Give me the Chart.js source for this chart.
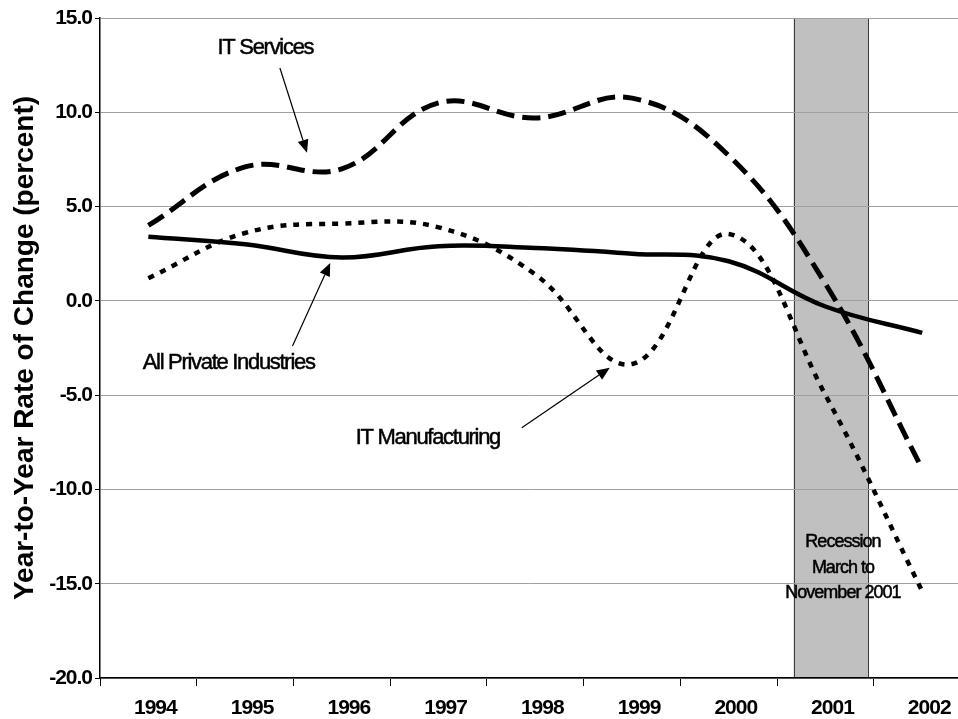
<!DOCTYPE html>
<html><head><meta charset="utf-8">
<script src="https://cdn.jsdelivr.net/npm/chart.js@4"></script>
<style>html,body{margin:0;padding:0;background:#fff}#wrap{width:958px;height:719px;position:relative}</style>
</head><body><div id="wrap"><canvas id="c"></canvas></div>
<script>
const categories = ['1994','1995','1996','1997','1998','1999','2000','2001','2002'];
const allPrivate = [3.4, 3.0, 2.3, 2.9, 2.8, 2.5, 2.1, -0.3, -1.7];
const itServices = [4.0, 7.1, 7.0, 10.5, 9.7, 10.75, 7.7, 0.9, -8.9];
const itManufacturing = [1.2, 3.6, 4.1, 3.9, 1.4, -3.35, 3.55, -5.0, -15.4];
const yTickValues = [-20, -15, -10, -5, 0, 5, 10, 15];
const recessionSpan = [6.67, 7.44];
const recessionLines = ['Recession', 'March to', 'November 2001'];
const yTitle = 'Year-to-Year Rate of Change (percent)';

// annotation placement (data units: x = category index, y = percent)
const notes = [
  {text: 'IT Services', at: [1.21, 13.4], from: [1.36, 12.35], to: [1.64, 7.85]},
  {text: 'All Private Industries', at: [0.83, -3.3], from: [1.49, -2.39], to: [1.88, 2.01]},
  {text: 'IT Manufacturing', at: [2.89, -7.26], from: [3.86, -6.73], to: [4.77, -3.55]}
];
const recessionTextAt = [7.18, [-12.78, -14.16, -15.48]];

const toPts = arr => arr.map((v, i) => ({x: i, y: v}));

const bandPlugin = {
  id: 'band',
  beforeDraw(chart) {
    const ctx = chart.ctx, xs = chart.scales.x, a = chart.chartArea;
    ctx.letterSpacing = '-1px';
    const x0 = xs.getPixelForValue(recessionSpan[0]);
    const x1 = xs.getPixelForValue(recessionSpan[1]);
    ctx.save();
    ctx.fillStyle = '#c0c0c0';
    ctx.fillRect(x0, a.top, x1 - x0, a.bottom - a.top);
    ctx.strokeStyle = '#3a3a3a';
    ctx.lineWidth = 1;
    ctx.strokeRect(Math.round(x0) + 0.5, a.top + 0.5, Math.round(x1 - x0), a.bottom - a.top);
    ctx.restore();
  }
};

function arrow(ctx, x0, y0, x1, y1) {
  const ang = Math.atan2(y1 - y0, x1 - x0);
  const L = 13, W = 5.5;
  const bx = x1 - L * Math.cos(ang), by = y1 - L * Math.sin(ang);
  ctx.beginPath();
  ctx.moveTo(x0, y0); ctx.lineTo(bx, by);
  ctx.lineWidth = 1.2; ctx.strokeStyle = '#000'; ctx.stroke();
  ctx.beginPath();
  ctx.moveTo(x1, y1);
  ctx.lineTo(bx + W * Math.sin(ang), by - W * Math.cos(ang));
  ctx.lineTo(bx - W * Math.sin(ang), by + W * Math.cos(ang));
  ctx.closePath(); ctx.fillStyle = '#000'; ctx.fill();
}

function heavyText(ctx, t, x, y) {
  ctx.fillText(t, x, y);
  ctx.lineWidth = 0.5;
  ctx.strokeStyle = '#000';
  ctx.strokeText(t, x, y);
}

const notesPlugin = {
  id: 'notes',
  afterDraw(chart) {
    const ctx = chart.ctx, xs = chart.scales.x, ys = chart.scales.y;
    ctx.save();
    ctx.fillStyle = '#000';
    ctx.textAlign = 'center';
    ctx.textBaseline = 'middle';
    ctx.font = '22px "Liberation Sans", Arial, sans-serif';
    ctx.letterSpacing = '-1.3px';
    notes.forEach(n => {
      heavyText(ctx, n.text, xs.getPixelForValue(n.at[0]), ys.getPixelForValue(n.at[1]));
      arrow(ctx, xs.getPixelForValue(n.from[0]), ys.getPixelForValue(n.from[1]),
                 xs.getPixelForValue(n.to[0]), ys.getPixelForValue(n.to[1]));
    });
    ctx.font = '18px "Liberation Sans", Arial, sans-serif';
    ctx.letterSpacing = '-1px';
    recessionLines.forEach((t, i) => {
      heavyText(ctx, t, xs.getPixelForValue(recessionTextAt[0]), ys.getPixelForValue(recessionTextAt[1][i]));
    });
    // y axis title
    ctx.letterSpacing = '0px';
    ctx.font = 'bold 28px "Liberation Sans", Arial, sans-serif';
    ctx.textBaseline = 'alphabetic';
    const a = chart.chartArea;
    ctx.translate(33, (a.top + a.bottom) / 2);
    ctx.rotate(-Math.PI / 2);
    ctx.fillText(yTitle, 0, 0);
    ctx.restore();
  }
};

new Chart(document.getElementById('c'), {
  type: 'line',
  data: {
    datasets: [
      {label: 'All Private Industries', data: toPts(allPrivate), borderColor: '#000', borderWidth: 4.5, tension: 0.4, pointRadius: 0, fill: false},
      {label: 'IT Services', data: toPts(itServices), borderColor: '#000', borderWidth: 5, borderDash: [18, 8], tension: 0.4, pointRadius: 0, fill: false},
      {label: 'IT Manufacturing', data: toPts(itManufacturing), borderColor: '#000', borderWidth: 4.5, borderDash: [6, 7], tension: 0.4, pointRadius: 0, fill: false}
    ]
  },
  options: {
    responsive: true,
    maintainAspectRatio: false,
    animation: false,
    layout: {padding: {top: 18, left: 0, right: 0, bottom: 0}},
    plugins: {legend: {display: false}, tooltip: {enabled: false}},
    scales: {
      x: {
        type: 'linear',
        min: -0.5,
        max: 8.37,
        afterBuildTicks(scale) {
          const t = [];
          for (let v = -0.5; v <= categories.length - 1 + 0.001; v += 0.5) t.push({value: v});
          scale.ticks = t;
        },
        afterFit(scale) { scale.height = 41; },
        ticks: {
          autoSkip: false, maxRotation: 0, minRotation: 0, padding: 10, labelOffset: 7,
          color: '#000',
          font: {family: '"Liberation Sans", Arial, sans-serif', size: 21, weight: 'bold'},
          callback: v => Number.isInteger(v) ? categories[v] : ''
        },
        grid: {
          drawOnChartArea: false, drawTicks: true, tickLength: 8,
          color: ctx => (ctx.tick && Number.isInteger(ctx.tick.value)) ? 'rgba(0,0,0,0)' : '#000',
          lineWidth: 1
        },
        border: {display: true, color: '#000', width: 1.5}
      },
      y: {
        min: -20, max: 15,
        afterBuildTicks(scale) { scale.ticks = yTickValues.map(v => ({value: v})); },
        afterFit(scale) { scale.width = 100; },
        ticks: {
          padding: 3, color: '#000',
          font: {family: '"Liberation Sans", Arial, sans-serif', size: 21, weight: 'bold'},
          callback: v => v.toFixed(1)
        },
        grid: {color: '#a0a0a0', lineWidth: 1, tickLength: 5, tickColor: '#000'},
        border: {display: true, color: '#000', width: 1.5}
      }
    }
  },
  plugins: [bandPlugin, notesPlugin]
});
</script>
</body></html>
